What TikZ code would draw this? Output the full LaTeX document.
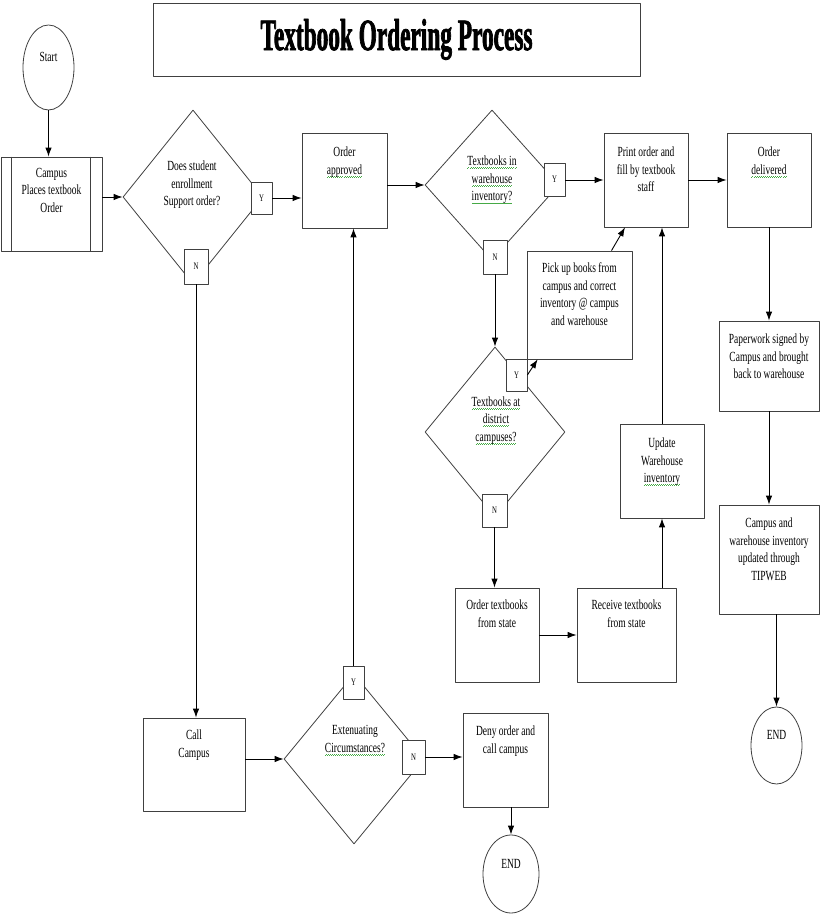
\documentclass[tikz,border=0pt]{standalone}
\usepackage{fontspec}
\usetikzlibrary{arrows.meta}
\usetikzlibrary{shapes.geometric, positioning}
\setmainfont{Liberation Serif}[FakeStretch=0.68]
\newfontfamily\titlefont{Liberation Serif Bold}[FakeStretch=0.52,FakeBold=1.5]
\definecolor{spellgreen}{RGB}{70,170,70}
\newsavebox{\spellbox}
\newcommand{\spellmark}[1]{\sbox{\spellbox}{#1}\rlap{\raisebox{-3bp}{\color{spellgreen}\hbox to \wd\spellbox{\xleaders\hbox{\rule{1bp}{0.6bp}\raisebox{0.8bp}{\rule{1bp}{0.6bp}}}\hfill}}}\usebox{\spellbox}}

\begin{document}
\begin{tikzpicture}[>={Latex[length=9bp,width=6.5bp]},line join=bevel,
  every node/.style={font=\fontsize{14}{17.7}\selectfont},
  procbox/.style={draw=black!75, line width=0.8bp, rectangle, inner sep=0bp},
  decision/.style={draw=black!75, line width=0.8bp, diamond, inner sep=0bp},
  terminal/.style={draw=black!75, line width=0.8bp, ellipse, inner sep=0bp, text depth=21bp},
  tagbox/.style={draw=black!75, line width=0.8bp, fill=white, inner sep=0bp, font=\fontsize{10}{12}\selectfont},
  boxtext/.style={align=center, inner sep=0bp},
  arr/.style={->, black, line width=0.9bp}]
\useasboundingbox (0bp,0bp) rectangle (821bp,915bp);
%%
\node (title) at (396.5bp,875.5bp) [procbox, minimum width=487bp, minimum height=73bp] {\titlefont\fontsize{45}{50}\selectfont Textbook Ordering Process};
\node (start) at (48.5bp,847.5bp) [terminal, minimum width=51bp, minimum height=85bp] {Start};
  \node (campus) at (51.5bp,711bp) [procbox, minimum width=101bp, minimum height=94bp] {};
  \node (campus_txt) [boxtext, below=11bp of campus.north] {Campus\\Places textbook\\Order};
  \draw [black!75, line width=0.8bp] ([xshift=11bp]campus.north west) -- ([xshift=11bp]campus.south west);
  \draw [black!75, line width=0.8bp] ([xshift=-12bp]campus.north east) -- ([xshift=-12bp]campus.south east);
  \node (support) at (193bp,718bp) [decision, minimum width=140bp, minimum height=174bp] {};
  \node (support_txt) at (192bp,730bp) [boxtext] {Does student\\enrollment\\Support order?};
  \node (support_y) at (261.5bp,717bp) [tagbox, minimum width=21bp, minimum height=32bp] {Y};
  \node (support_n) at (196bp,648.5bp) [tagbox, minimum width=24bp, minimum height=35bp] {N};
  \node (approved) at (344.5bp,734.5bp) [procbox, minimum width=85bp, minimum height=95bp] {};
  \node (approved_txt) [boxtext, below=14bp of approved.north] {Order\\\spellmark{approved}};
  \node (stock) at (492bp,730bp) [decision, minimum width=134bp, minimum height=150bp] {};
  \node (stock_txt) at (492bp,735bp) [boxtext] {\spellmark{Textbooks in}\\\spellmark{warehouse}\\\spellmark{inventory?}};
  \node (stock_y) at (554.5bp,735.5bp) [tagbox, minimum width=21bp, minimum height=33bp] {Y};
  \node (stock_n) at (495bp,658bp) [tagbox, minimum width=24bp, minimum height=34bp] {N};
  \node (print) at (646bp,735bp) [procbox, minimum width=84bp, minimum height=94bp] {};
  \node (print_txt) [boxtext, below=14bp of print.north] {Print order and\\fill by textbook\\staff};
  \node (delivered) at (769bp,735bp) [procbox, minimum width=84bp, minimum height=94bp] {};
  \node (delivered_txt) [boxtext, below=14bp of delivered.north] {Order\\\spellmark{delivered}};
  \node (paperwork) at (769bp,549bp) [procbox, minimum width=100bp, minimum height=90bp] {};
  \node (paperwork_txt) [boxtext, below=13bp of paperwork.north] {Paperwork signed by\\Campus and brought\\back to warehouse};
  \node (pickup) at (579.5bp,610bp) [procbox, minimum width=105bp, minimum height=108bp] {};
  \node (pickup_txt) [boxtext, below=12bp of pickup.north] {Pick up books from\\campus and correct\\inventory @ campus\\and warehouse};
  \node (district) at (495bp,483bp) [decision, minimum width=140bp, minimum height=170bp] {};
  \node (district_txt) at (496bp,494.5bp) [boxtext] {\spellmark{Textbooks at}\\\spellmark{district}\\\spellmark{campuses?}};
  \node (district_y) at (516.5bp,540bp) [tagbox, minimum width=21bp, minimum height=32bp] {Y};
  \node (district_n) at (494.5bp,404.5bp) [tagbox, minimum width=25bp, minimum height=33bp] {N};
  \node (update) at (662bp,444bp) [procbox, minimum width=84bp, minimum height=94bp] {};
  \node (update_txt) [boxtext, below=14bp of update.north] {Update\\Warehouse\\\spellmark{inventory}};
  \node (state) at (497bp,280bp) [procbox, minimum width=84bp, minimum height=94bp] {};
  \node (state_txt) [boxtext, below=12bp of state.north] {Order textbooks\\from state};
  \node (receive) at (626.5bp,280bp) [procbox, minimum width=99bp, minimum height=94bp] {};
  \node (receive_txt) [boxtext, below=12bp of receive.north] {Receive textbooks\\from state};
  \node (tipweb) at (769bp,355.5bp) [procbox, minimum width=100bp, minimum height=109bp] {};
  \node (tipweb_txt) [boxtext, below=13bp of tipweb.north] {Campus and\\warehouse inventory\\updated through\\TIPWEB};
  \node (end_a) at (776.5bp,169.5bp) [terminal, minimum width=51bp, minimum height=77bp] {END};
  \node (call) at (194bp,150.5bp) [procbox, minimum width=102bp, minimum height=93bp] {};
  \node (call_txt) [boxtext, below=12bp of call.north] {Call\\Campus};
  \node (extenuating) at (354bp,156bp) [decision, minimum width=140bp, minimum height=170bp] {};
  \node (extenuating_txt) at (355bp,174.5bp) [boxtext] {Extenuating\\\spellmark{Circumstances?}};
  \node (extenuating_y) at (353.5bp,232.5bp) [tagbox, minimum width=21bp, minimum height=33bp] {Y};
  \node (extenuating_n) at (413.5bp,158bp) [tagbox, minimum width=23bp, minimum height=34bp] {N};
  \node (deny) at (505.5bp,155bp) [procbox, minimum width=85bp, minimum height=94bp] {};
  \node (deny_txt) [boxtext, below=13bp of deny.north] {Deny order and\\call campus};
  \node (end_b) at (511bp,41bp) [terminal, minimum width=56bp, minimum height=78bp] {END};
  \draw [arr] (start.south) -- (start.south |- campus.north);
  \draw [arr] (support.west -| campus.east) -- (support.west);
  \draw [arr] (support_y.east) -- (support_y.east -| approved.west);
  \draw [arr] (support_n.south) -- (support_n.south |- call.north);
  \draw [arr] (stock.west -| approved.east) -- (stock.west);
  \draw [arr] (print.west -| stock_y.east) -- (print.west);
  \draw [arr] (print.east) -- (delivered.west);
  \draw [arr] (delivered.south) -- (paperwork.north);
  \draw [arr] (paperwork.south) -- (tipweb.north);
  \draw [arr] (end_a.north |- tipweb.south) -- (end_a.north);
  \draw [arr] (stock_n.south) -- (stock_n.south |- district.north);
  \draw [arr] (district_y.east) -- ([xshift=11bp]pickup.south west);
  \draw [arr] ([xshift=32bp]pickup.north) -- ([xshift=-21bp]print.south);
  \draw [arr] (district_n.south) -- (district_n.south |- state.north);
  \draw [arr] (state.east) -- (receive.west);
  \draw [arr] (update.south |- receive.north) -- (update.south);
  \draw [arr] (update.north) -- (update.north |- print.south);
  \draw [arr] (extenuating.west -| call.east) -- (extenuating.west);
  \draw [arr] (extenuating_n.east) -- (extenuating_n.east -| deny.west);
  \draw [arr] (extenuating_y.north) -- (extenuating_y.north |- approved.south);
  \draw [arr] (end_b.north |- deny.south) -- (end_b.north);
%
\end{tikzpicture}
\end{document}
